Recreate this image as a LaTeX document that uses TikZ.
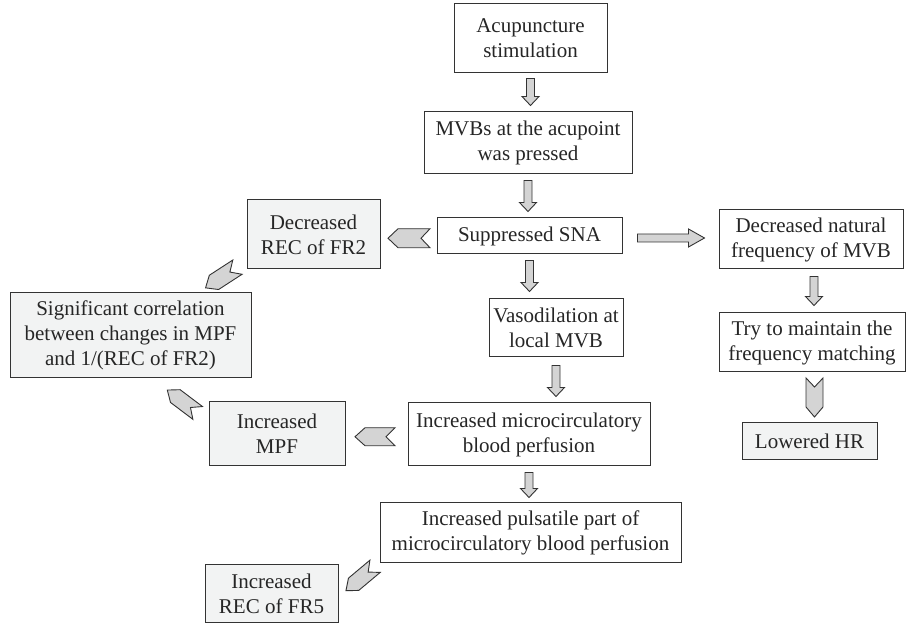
\documentclass[tikz,border=0pt]{standalone}
\usepackage{fontspec}
\setmainfont{Liberation Serif}
\usetikzlibrary{calc}
\definecolor{boxgray}{HTML}{F2F3F3}
\definecolor{arrgray}{HTML}{D4D4D4}
\definecolor{edgec}{HTML}{333333}
\tikzset{
  box/.style={draw=edgec, line width=1pt, fill=white, align=center, inner sep=0pt,
    font=\fontsize{21}{25}\selectfont, text=black!85},
  gbox/.style={box, fill=boxgray},
  blk/.style={draw=edgec, line width=0.9pt, fill=arrgray, line join=miter},
  chv/.style={draw=edgec, line width=0.9pt, fill=arrgray, line join=miter},
}
% vertical block arrow, from coordinate #1 down to tip #2
\newcommand\varrow[2]{%
  \draw[blk] ($(#1)+(-4,0)$) -- ($(#2)+(-4,9)$) -- ($(#2)+(-8.5,9)$) -- (#2)
    -- ($(#2)+(8.5,9)$) -- ($(#2)+(4,9)$) -- ($(#1)+(4,0)$) -- cycle;}
% horizontal block arrow, from #1 right to tip #2
\newcommand\harrow[2]{%
  \draw[blk] ($(#1)+(0,4)$) -- ($(#2)+(-16,4)$) -- ($(#2)+(-16,9)$) -- (#2)
    -- ($(#2)+(-16,-9)$) -- ($(#2)+(-16,-4)$) -- ($(#1)+(0,-4)$) -- cycle;}
% chevron arrow: #1 centre, #2 angle, #3 length, #4 width
\newcommand\chev[4]{%
  \begin{scope}[shift={(#1)}, rotate=#2]
    \draw[chv] ({#3/2},0) -- ({#3/2-10},{#4/2}) -- ({-#3/2},{#4/2}) -- ({-#3/2+9},0)
      -- ({-#3/2},{-#4/2}) -- ({#3/2-10},{-#4/2}) -- cycle;
  \end{scope}}
\begin{document}
\begin{tikzpicture}[x=1pt,y=1pt]
\useasboundingbox (0,0) rectangle (912,626);
\fill[white] (0,0) rectangle (912,626);

\node[box, minimum width=153, minimum height=69] (acu) at (530.5,587.5) {Acupuncture\\stimulation};
\node[box, minimum width=208, minimum height=62] (mvb) at (528,483) {MVBs at the acupoint\\was pressed};
\node[box, minimum width=185, minimum height=36] (sna) at (529.5,390) {Suppressed SNA};
\node[gbox, minimum width=133, minimum height=69] (rec2) at (313.5,391.5) {Decreased\\REC of FR2};
\node[gbox, minimum width=241, minimum height=85] (sig) at (130.5,290.5) {Significant correlation\\between changes in MPF\\and 1/(REC of FR2)};
\node[box, minimum width=184, minimum height=59] (nat) at (811,386.5) {Decreased natural\\frequency of MVB};
\node[box, minimum width=186, minimum height=59] (try) at (812,283.5) {Try to maintain the\\frequency matching};
\node[gbox, minimum width=135, minimum height=37] (hr) at (809.5,184.5) {Lowered HR};
\node[box, minimum width=134, minimum height=58] (vaso) at (556,298) {Vasodilation at\\local MVB};
\node[box, minimum width=242, minimum height=63] (micro) at (529,191.5) {Increased microcirculatory\\blood perfusion};
\node[gbox, minimum width=136, minimum height=64] (mpf) at (277,192) {Increased\\MPF};
\node[box, minimum width=301, minimum height=60] (puls) at (530.5,93) {Increased pulsatile part of\\microcirculatory blood perfusion};
\node[gbox, minimum width=133, minimum height=57] (rec5) at (271.5,32.5) {Increased\\REC of FR5};

% vertical block arrows
\coordinate (a1) at ($(acu.south)+(0,-5)$);   \coordinate (b1) at ($(acu.south|-mvb.north)+(0,6)$);
\varrow{a1}{b1}
\coordinate (a2) at ($(mvb.south)+(0,-6)$);   \coordinate (b2) at ($(mvb.south|-sna.north)+(0,6)$);
\varrow{a2}{b2}
\coordinate (a3) at ($(sna.south)+(0,-6)$);   \coordinate (b3) at ($(sna.south|-vaso.north)+(0,7)$);
\varrow{a3}{b3}
\coordinate (a4) at ($(vaso.south)+(0,-8)$);  \coordinate (b4) at ($(vaso.south|-micro.north)+(0,6)$);
\varrow{a4}{b4}
\coordinate (a5) at ($(micro.south)+(0,-6)$); \coordinate (b5) at ($(micro.south|-puls.north)+(0,5)$);
\varrow{a5}{b5}
\coordinate (a6) at ($(nat.south)+(3,-7)$);   \coordinate (b6) at ($(a6|-try.north)+(0,7)$);
\varrow{a6}{b6}
% horizontal block arrow
\coordinate (h1) at ($(sna.east)+(15,-2)$);   \coordinate (h2) at ($(h1-|nat.west)+(-14,0)$);
\harrow{h1}{h2}

% chevron arrows
\coordinate (c1) at ($(sna.west)!0.5!(rec2.east)+(0.5,-3)$);
\chev{c1}{180}{42}{19}
\coordinate (c2) at ($(rec2.south west)+(-25,-8)$);
\chev{c2}{213}{38}{17}
\coordinate (c3) at ($(micro.west)!0.5!(mpf.east)+(-1.5,-2.5)$);
\chev{c3}{180}{40}{18}
\coordinate (c4) at ($(mpf.north west)+(-26,0)$);
\chev{c4}{143}{38}{16}
\coordinate (c5) at ($(try.south)!0.5!(try.south|-hr.north)+(2.5,0)$);
\chev{c5}{270}{39}{17}
\coordinate (c6) at ($(rec5.east)+(22,15)$);
\chev{c6}{220}{38}{16}
\end{tikzpicture}
\end{document}
